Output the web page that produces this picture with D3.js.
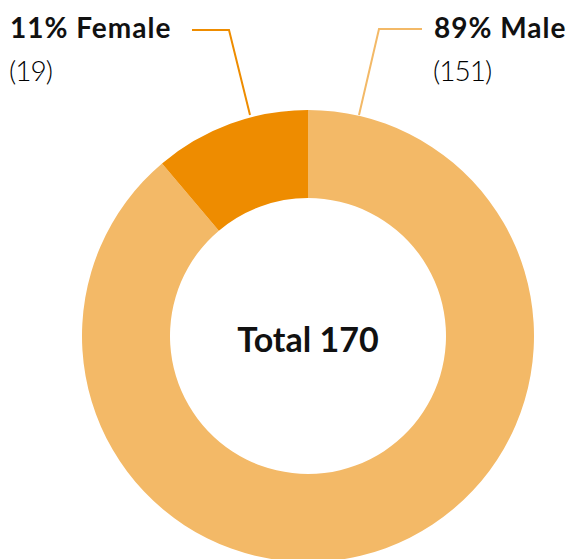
<!DOCTYPE html>
<html><head><meta charset="utf-8">
<script src="https://cdn.jsdelivr.net/npm/d3@7"></script>
<style>body{margin:0;background:#fff}svg{display:block}</style>
</head><body>
<script>
const categories = ["Male", "Female"];
const values = [151, 19];
const percents = ["89%", "11%"];
const colors = ["#F3B967", "#EE8C00"];
const totalLabel = "Total 170";

const W = 579, H = 559;
const svg = d3.select("body").append("svg").attr("width", W).attr("height", H);
const cx = 308, cy = 336, R = 226, r = 138;

const data = categories.map((c, i) => ({cat: c, value: values[i], pct: percents[i], color: colors[i]}));
const pie = d3.pie().value(d => d.value).sort(null).startAngle(0).endAngle(2 * Math.PI);
const arc = d3.arc().innerRadius(r).outerRadius(R);
const g = svg.append("g").attr("transform", `translate(${cx},${cy})`);
g.selectAll("path").data(pie(data)).join("path").attr("d", arc).attr("fill", d => d.data.color);

const FONT = "Lato, sans-serif";
g.append("text").attr("x", 0).attr("y", 16).attr("text-anchor", "middle")
  .style("font-family", FONT).style("font-weight", 700).style("font-size", "34px")
  .attr("fill", "#111").text(totalLabel);

// leader lines
const leaders = [
  {pts: [[422, 29], [379, 29], [359, 115]], color: colors[0]},
  {pts: [[192, 30], [229, 30], [250, 115]], color: colors[1]}
];
svg.selectAll("polyline.lead").data(leaders).join("polyline").attr("class", "lead")
  .attr("points", d => d.pts.map(p => p.join(",")).join(" "))
  .attr("fill", "none").attr("stroke", d => d.color).attr("stroke-width", 2);

const labels = [{x: 434, d: data[0]}, {x: 10, d: data[1]}];
labels.forEach(l => {
  svg.append("text").attr("x", l.x).attr("y", 38)
    .style("font-family", FONT).style("font-weight", 700).style("font-size", "28px")
    .style("letter-spacing", "1px")
    .attr("fill", "#111").text(`${l.d.pct} ${l.d.cat}`);
  svg.append("text").attr("x", l.x - 1).attr("y", 81)
    .style("font-family", FONT).style("font-weight", 300).style("font-size", "28px")
    .style("letter-spacing", "-1px")
    .attr("fill", "#000").text(`(${l.d.value})`);
});
</script>
</body></html>
